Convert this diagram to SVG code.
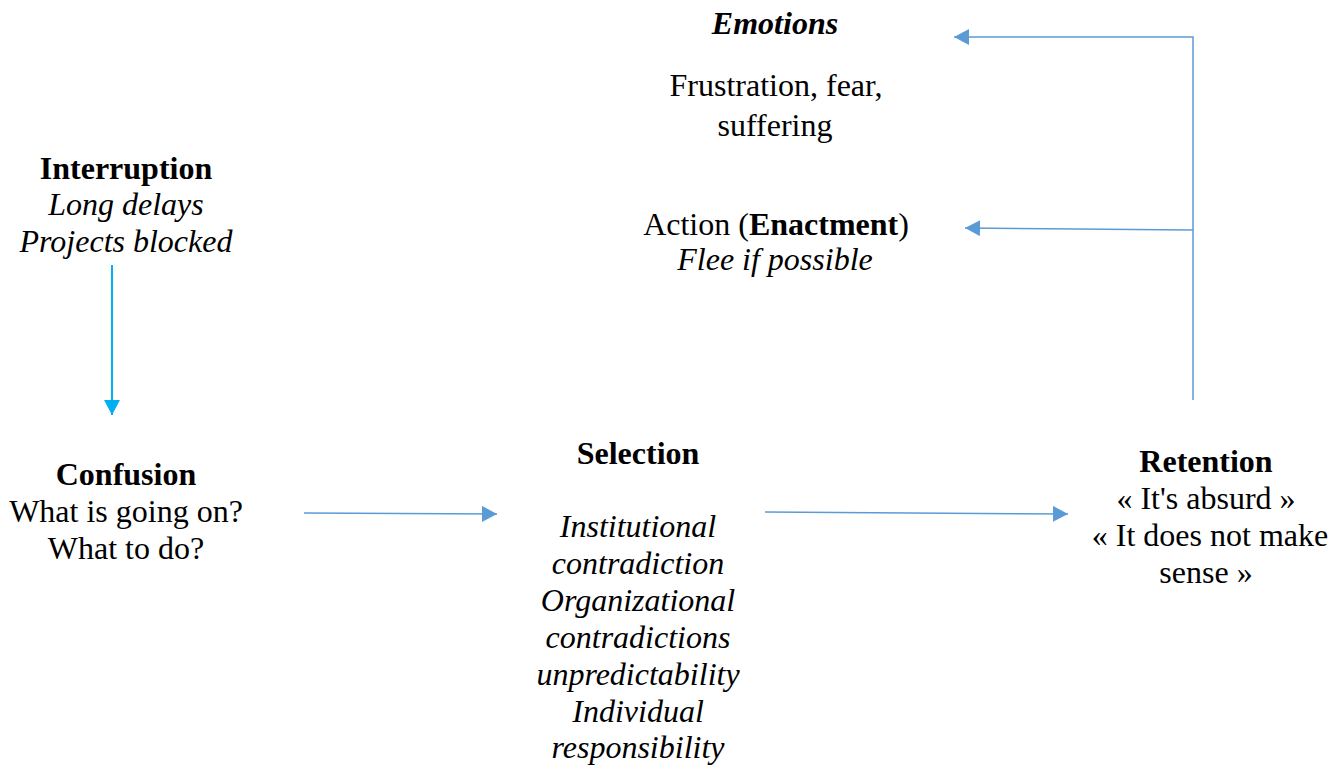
<svg xmlns="http://www.w3.org/2000/svg" width="1341" height="765" viewBox="0 0 1341 765">
<style>
text{font-family:"Liberation Serif","Times New Roman",serif;font-size:32px;fill:#000;text-anchor:middle}
.b{font-weight:bold}
.i{font-style:italic}
.c{fill:none;stroke:#5B9BD5;stroke-width:1.5}
.cb{fill:none;stroke:#00B0F0;stroke-width:2}
</style>
<defs>
<marker id="a" markerWidth="16" markerHeight="16" refX="15" refY="8" orient="auto" markerUnits="userSpaceOnUse"><path d="M0,0 L15,8 L0,16 Z" fill="#5B9BD5"/></marker>
<marker id="ab" markerWidth="16" markerHeight="16" refX="15" refY="8" orient="auto" markerUnits="userSpaceOnUse"><path d="M0,0 L15,8 L0,16 Z" fill="#00B0F0"/></marker>
</defs>
<rect width="1341" height="765" fill="#fff"/>
<g id="connectors">
<path class="cb" d="M112,265 L112,415" marker-end="url(#ab)"/>
<path class="c" d="M304,513 L497,514" marker-end="url(#a)"/>
<path class="c" d="M765,512 L1068,514" marker-end="url(#a)"/>
<path class="c" d="M1193,400 L1193,37 L954,37" marker-end="url(#a)"/>
<path class="c" d="M1193,230 L965,228" marker-end="url(#a)"/>
</g>
<g id="emotions">
<text x="775" y="33.5" class="b i">Emotions</text>
<text x="776" y="95.5">Frustration, fear,</text>
<text x="775" y="135.5">suffering</text>
</g>
<g id="action">
<text x="776" y="234.5">Action (<tspan class="b">Enactment</tspan>)</text>
<text x="775" y="269.5" class="i">Flee if possible</text>
</g>
<g id="interruption">
<text x="126" y="178.5" class="b">Interruption</text>
<text x="126" y="214.5" class="i">Long delays</text>
<text x="126" y="251.5" class="i">Projects blocked</text>
</g>
<g id="confusion">
<text x="126" y="484.5" class="b">Confusion</text>
<text x="126" y="521.5">What is going on?</text>
<text x="126" y="558.5">What to do?</text>
</g>
<g id="selection">
<text x="638" y="463.5" class="b">Selection</text>
<text x="638" y="536.5" class="i">Institutional</text>
<text x="638" y="573.5" class="i">contradiction</text>
<text x="638" y="610.5" class="i">Organizational</text>
<text x="638" y="647.5" class="i">contradictions</text>
<text x="638" y="684.5" class="i">unpredictability</text>
<text x="638" y="721.5" class="i">Individual</text>
<text x="638" y="757.5" class="i">responsibility</text>
</g>
<g id="retention">
<text x="1206" y="471.5" class="b">Retention</text>
<text x="1206" y="508.5">« It's absurd »</text>
<text x="1210" y="545.5">« It does not make</text>
<text x="1206" y="582.5">sense »</text>
</g>
</svg>
